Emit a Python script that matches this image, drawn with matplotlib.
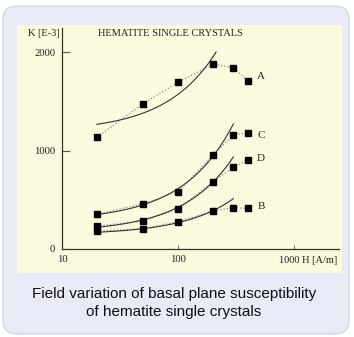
import numpy as np
import matplotlib
matplotlib.use("Agg")
import matplotlib.pyplot as plt
from matplotlib.patches import FancyBboxPatch, Rectangle

# ---- data ----
H = [20, 50, 100, 200, 300, 400]            # field H [A/m]
K_A = [1134, 1475, 1692, 1878, 1840, 1709]  # susceptibility K [E-3]
K_C = [352, 460, 582, 951, 1160, 1178]
K_D = [232, 284, 406, 683, 829, 903]
K_B = [183, 206, 277, 386, 419, 413]
series_names = ["A", "C", "D", "B"]
label_K = [1756, 1152, 914, 429]

# Rayleigh-law fit lines (linear in H): endpoints (H_start, K_start, H_end, K_end)
fit_A = (20, 1266, 213, 2000)
fit_C = (20, 350, 300, 1270)
fit_D = (20, 220, 300, 935)
fit_B = (20, 170, 300, 511)

xticks = [10, 100, 1000]
xticklabels = ["10", "100", ""]
yticks = [0, 1000, 2000]
yticklabels = ["0", "1000", "2000"]

W, Hpx = 354, 337
fig = plt.figure(figsize=(W / 100, Hpx / 100), dpi=100)
fig.patch.set_facecolor("white")

# outer rounded lavender box
outer = FancyBboxPatch((3 / W, 3 / Hpx), 346 / W, 328 / Hpx,
                       boxstyle="round,pad=0,rounding_size=0.04",
                       transform=fig.transFigure, facecolor="#E8EAF6",
                       edgecolor="#D4D7E6", linewidth=1.0, zorder=-3)
fig.patches.append(outer)
# yellow panel
panel = Rectangle((17 / W, (Hpx - 273) / Hpx), 325 / W, 248 / Hpx,
                  transform=fig.transFigure, facecolor="#FBF9DE",
                  edgecolor="none", zorder=-2)
fig.patches.append(panel)

ax = fig.add_axes([62 / W, (Hpx - 249) / Hpx, 277 / W, 221 / Hpx])
ax.set_zorder(2)
ax.set_facecolor("none")
ax.set_xscale("log")
ax.set_xlim(10, 2443)
ax.set_ylim(0, 2244)

serif = "Liberation Serif"
ink = "#222222"

for K, fit, name, ly in zip([K_A, K_C, K_D, K_B], [fit_A, fit_C, fit_D, fit_B],
                            series_names, label_K):
    ax.plot(H, K, linestyle=":", color="#8a8a8a", linewidth=0.9, zorder=2)
    hs = np.linspace(fit[0], fit[2], 60)
    ks = fit[1] + (fit[3] - fit[1]) * (hs - fit[0]) / (fit[2] - fit[0])
    ax.plot(hs, ks, color="#333333", linewidth=0.8, zorder=3)
    ax.plot(H, K, linestyle="none", marker="s", markersize=4.0,
            color="black", zorder=4)
    ax.text(520, ly, name, fontfamily=serif, fontsize=8, color=ink,
            va="center", ha="center")

for s in ["top", "right"]:
    ax.spines[s].set_visible(False)
for s in ["left", "bottom"]:
    ax.spines[s].set_color("#333333")
    ax.spines[s].set_linewidth(0.9)

ax.set_xticks(xticks)
ax.set_xticklabels(xticklabels, fontfamily=serif, fontsize=7.7, color=ink)
ax.xaxis.set_minor_locator(matplotlib.ticker.NullLocator())
ax.tick_params(axis="x", direction="in", length=3, width=0.6, color="#555555", pad=4)
ax.set_yticks(yticks)
ax.set_yticklabels(yticklabels, fontfamily=serif, fontsize=7.7, color=ink)
ax.tick_params(axis="y", direction="in", length=5.5, width=0.8, color="#555555", pad=5)
ax.yaxis.get_major_ticks()[0].tick1line.set_visible(False)

ax.annotate("1000 H [A/m]", xy=(1000, 0), xycoords=("data", "axes fraction"),
            xytext=(-10.5, -8.5), textcoords="offset points",
            fontfamily=serif, fontsize=7.5, color=ink, ha="left", va="center")

fig.text(44 / W, 1 - 34 / Hpx, "K [E-3]", fontfamily=serif, fontsize=7.5,
         color=ink, ha="center", va="center")
fig.text(170 / W, 1 - 34 / Hpx, "HEMATITE SINGLE CRYSTALS", fontfamily=serif,
         fontsize=7.5, color=ink, ha="center", va="center")

fig.text(174 / W, 1 - 294 / Hpx, "Field variation of basal plane susceptibility",
         fontfamily="Liberation Sans", fontsize=11, color="#111111",
         ha="center", va="center")
fig.text(174 / W, 1 - 312 / Hpx, "of hematite single crystals",
         fontfamily="Liberation Sans", fontsize=11, color="#111111",
         ha="center", va="center")

fig.savefig("out.png", dpi=100, facecolor=fig.get_facecolor())
